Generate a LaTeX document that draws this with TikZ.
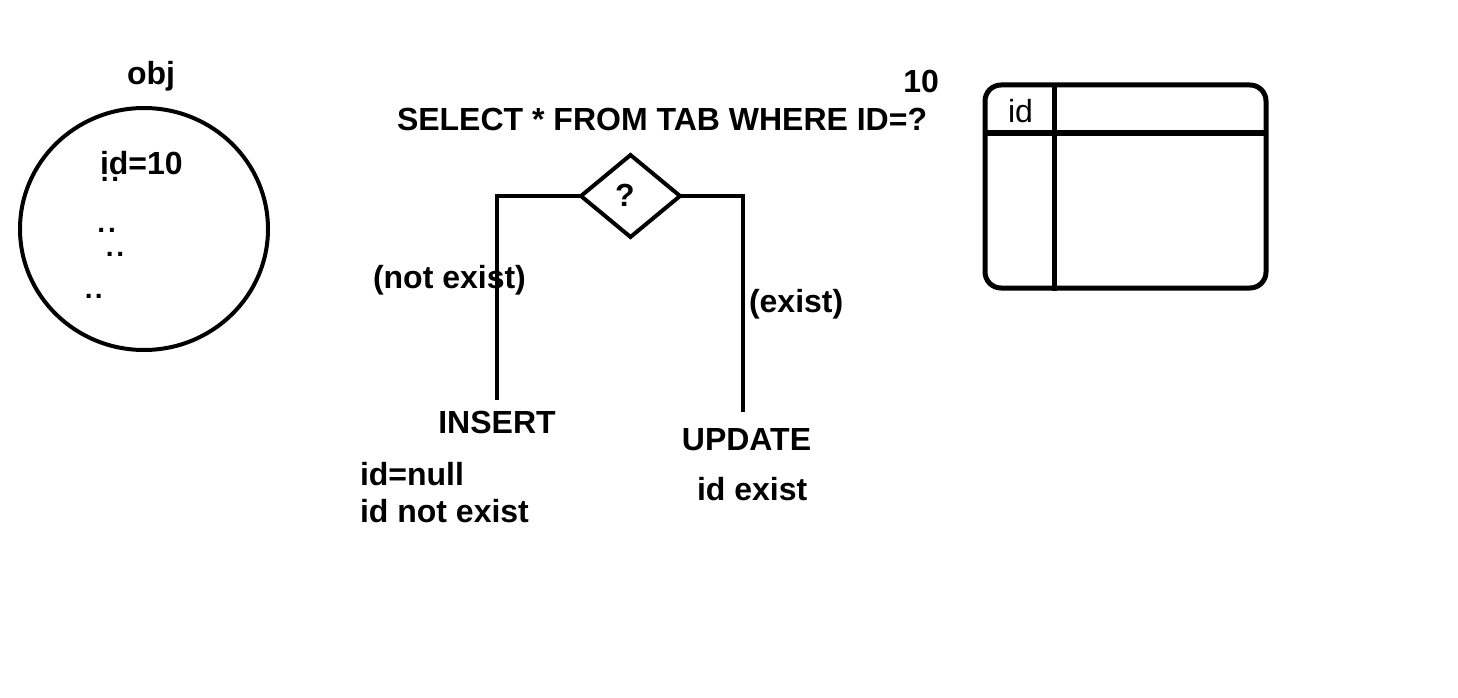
\documentclass[tikz,border=0pt]{standalone}
\usepackage{fontspec}
\setmainfont{Liberation Sans}
\usetikzlibrary{shapes.geometric}
\begin{document}
\begin{tikzpicture}[x=1pt,y=-1pt,line width=4pt,
  lbl/.style={font=\fontsize{32}{37}\selectfont\bfseries,inner sep=0pt},
  plain/.style={font=\fontsize{32}{37}\selectfont,inner sep=0pt},
  dots/.style={font=\fontsize{28}{32}\selectfont\bfseries,inner sep=0pt,anchor=base west},
  conn/.style={line width=4pt}]
\useasboundingbox[fill=white] (0,0) rectangle (1458,698);
% object
\node[lbl,anchor=base] (obj) at (151,85) {obj};
\node[ellipse,draw,line width=4pt,minimum width=248pt,minimum height=242pt] (circ) at (144,229) {};
\node[lbl,anchor=base west] (id10) at (98,174) {id=10};
\node[dots] (d1) at (98.8,181.3) {.\kern2.8pt.};
\node[dots] (d2) at (95.4,232) {.\kern2.9pt.};
\node[dots] (d3) at (103.8,256) {.\kern2.8pt.};
\node[dots] (d4) at (82.8,298) {.\kern2.2pt.};
% query
\node[lbl,anchor=base east] (ten) at (941,93) {10};
\node[lbl,anchor=base west] (sql) at (395,131) {SELECT * FROM TAB WHERE ID=?};
\node[diamond,draw,line width=4pt,minimum width=99pt,minimum height=82pt,inner sep=0pt,outer sep=0pt] (q) at (630.5,196) {};
\node[lbl] (qm) at (625,195) {?};
\coordinate (e1) at (497,400);
\coordinate (e2) at (743,412);
\draw[conn] (q.west) -| (e1);
\draw[conn] (q.east) -| (e2);
\node[lbl,anchor=base west] (ne) at (371,288) {(not exist)};
\node[lbl,anchor=base west] (ex) at (747,312) {(exist)};
\node[lbl,anchor=base] (ins) at (497,433) {INSERT};
\node[lbl,anchor=base] (upd) at (746.5,450) {UPDATE};
\node[lbl,anchor=base west] (n1) at (358,485) {id=null};
\node[lbl,anchor=base west] (n2) at (358,522) {id not exist};
\node[lbl,anchor=base west] (n3) at (695,500) {id exist};
% table
\node[draw,line width=5pt,rounded corners=16pt,minimum width=281pt,minimum height=203pt,inner sep=0pt] (tab) at (1125.5,186.5) {};
\draw[line width=5pt] (985,133) -- (1268,133);
\draw[line width=5pt] (1054,85) -- (1054,291);
\node[plain,anchor=base west] (tid) at (1006,123) {id};
\end{tikzpicture}
\end{document}
